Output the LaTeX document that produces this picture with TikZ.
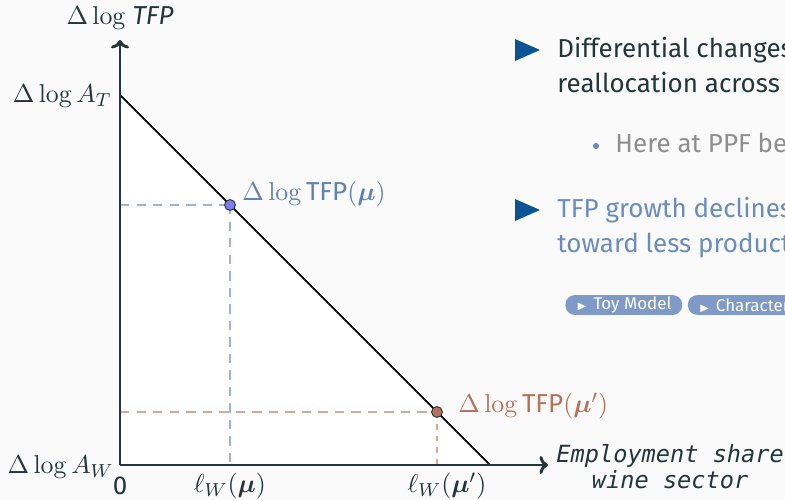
\documentclass[tikz,border=0pt]{standalone}
\usepackage{amsmath,amssymb,bm}
\usepackage[no-math]{fontspec}
\setmainfont{Fira Sans}
\setsansfont{Fira Sans}
\setmonofont{DejaVu Sans Mono}
\usetikzlibrary{arrows.meta, positioning}

\definecolor{bgslide}{HTML}{FAFAFA}
\definecolor{axisdark}{HTML}{23373B}
\definecolor{bulletblue}{HTML}{0B5394}
\definecolor{mublue}{HTML}{5F80B8}
\definecolor{dotblue}{HTML}{7C7CF2}
\definecolor{mured}{HTML}{B8705A}
\definecolor{textblue}{HTML}{6A8CC0}
\definecolor{buttonblue}{HTML}{7F9AC6}
\definecolor{subgrey}{HTML}{8E8E8E}

\begin{document}
\begin{tikzpicture}[
    x=0.4237pt, y=-0.4237pt,
    font=\fontsize{11}{13}\selectfont,
    axis/.style={draw=axisdark, line width=1.25pt, -{To[length=3.6pt,width=7.6pt]}},
    ppf/.style={draw=black, line width=0.75pt},
    guideblue/.style={draw=mublue!60, line width=0.5pt, dash pattern=on 4pt off 3pt},
    guidered/.style={draw=mured!60, line width=0.5pt, dash pattern=on 4pt off 3pt},
    tfpdot/.style={circle, inner sep=0pt, minimum size=4.6pt, draw=axisdark, line width=0.4pt},
    slidetext/.style={anchor=base west, inner sep=0pt, font=\fontsize{11}{13}\selectfont},
    button/.style={rounded corners=4pt, fill=buttonblue, text=white, inner xsep=4.5pt,
        inner ysep=0pt, minimum height=8.4pt, font=\fontsize{7.2}{8}\selectfont, anchor=west}
]
% slide background
\fill[bgslide] (0,0) rectangle (785,500);
\useasboundingbox (0,0) rectangle (785,500);

% feasible region under the PPF
\fill[white] (120,95) -- (490,465) -- (120,465) -- cycle;

\coordinate (origin) at (120,465);
\coordinate (ytop) at (120,40);
\coordinate (xend) at (548,465);
\coordinate (at) at (120,95);
\coordinate (aw) at (490,465);
\coordinate (mupt) at (230,205);
\coordinate (muprimept) at (437,412);

% dashed guides
\draw[guideblue] (mupt -| origin) -- (mupt);
\draw[guideblue] (mupt) -- (mupt |- origin);
\draw[guidered] (muprimept -| origin) -- (muprimept);
\draw[guidered, dash pattern=on 2.5pt off 2.5pt] (muprimept) -- (muprimept |- origin);

% PPF line and axes
\draw[ppf] (at) -- (aw);
\draw[axis] (origin) -- (ytop);
\draw[axis] (origin) -- (xend);
\node (mu) [tfpdot, fill=dotblue] at (mupt) {};
\node (muprime) [tfpdot, fill=mured] at (muprimept) {};

% axis labels
\node (ylabel) [text=axisdark] at (120,18) {$\Delta\log$ \textit{TFP}};
\node (xlabel) [anchor=west, align=center, text=axisdark, inner sep=0pt,
    font=\fontsize{10}{11}\ttfamily\itshape] at (556,467) {Employment share\\wine sector};
\node (atlabel) [anchor=east, text=axisdark, inner sep=0pt] at (112,96) {$\Delta\log A_T$};
\node (awlabel) [anchor=east, text=axisdark, inner sep=0pt] at (114,467) {$\Delta\log A_W$};
\node (zero) [text=axisdark] at (120,486) {0};
\node (lmu) [text=axisdark] at (230,486) {$\ell_W(\bm{\mu})$};
\node (lmuprime) [text=axisdark] at (447,486) {$\ell_W(\bm{\mu}')$};
\node (tfpmu) [anchor=west, text=mublue, inner sep=0pt] at (242,194) {$\Delta\log\text{TFP}(\bm{\mu})$};
\node (tfpmuprime) [anchor=west, text=mured, inner sep=0pt] at (458,406) {$\Delta\log\text{TFP}(\bm{\mu}')$};

% slide text on the right
\fill[bulletblue] (515,39) -- (540,50) -- (515,61) -- cycle;
\node (bulletone) [slidetext, text=axisdark] at (557,58) {Differential changes};
\node (bulletonecont) [slidetext, text=axisdark] at (557,93) {reallocation across};
\fill[textblue] (596,146) circle (1.3pt);
\node (subbullet) [slidetext, text=subgrey] at (615,153) {Here at PPF be};
\fill[bulletblue] (515,199) -- (540,210) -- (515,221) -- cycle;
\node (bullettwo) [slidetext, text=textblue] at (557,218) {TFP growth declines};
\node (bullettwocont) [slidetext, text=textblue] at (557,253) {toward less product};
\node (toymodel) [button] at (565,305) {{\fontsize{4.5}{5}\selectfont$\blacktriangleright$}\hspace{2.5pt}Toy Model};
\node (charact) [button, right=2pt of toymodel] {{\fontsize{4.5}{5}\selectfont$\blacktriangleright$}\hspace{2.5pt}Characterization};
\end{tikzpicture}
\end{document}
